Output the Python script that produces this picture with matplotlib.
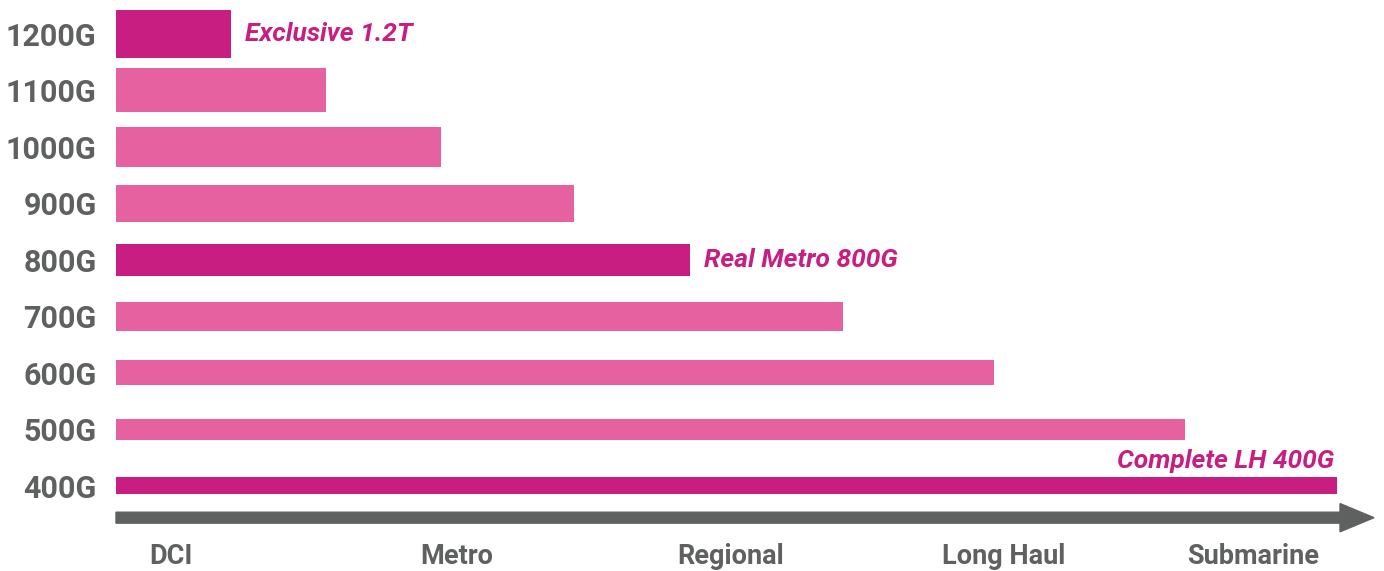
import matplotlib.pyplot as plt

# Data: line rates and the reach each one covers
rates = ['400G', '500G', '600G', '700G', '800G', '900G', '1000G', '1100G', '1200G']
reach = [1221, 1069, 878, 727, 574, 458, 325, 210, 115]
highlight = ['400G', '800G', '1200G']
callouts = {'1200G': 'Exclusive 1.2T', '800G': 'Real Metro 800G', '400G': 'Complete LH 400G'}
segments = ['DCI', 'Metro', 'Regional', 'Long Haul', 'Submarine']
segment_pos = [55, 341, 615, 888, 1137]

dark = '#C81E82'
light = '#E5619F'
gray = '#5F6060'

plt.rcParams['font.family'] = ['Roboto', 'DejaVu Sans']

fig = plt.figure(figsize=(13.84, 5.71), dpi=100)
ax = fig.add_axes([116 / 1384, 0, 1 - 116 / 1384, 1])

ypos = list(range(len(rates)))
# thinner bars for lower rates
heights = [0.30 + 0.069 * i for i in ypos]
colors = [dark if r in highlight else light for r in rates]
ax.barh(ypos, reach, height=heights, color=colors, left=0)

ax.set_xlim(0, 1268)
ax.set_ylim(-1.51, 8.6)

ax.set_yticks(ypos, rates)
ax.tick_params(axis='y', length=0, pad=14, labelsize=22, labelcolor=gray)
for t in ax.get_yticklabels():
    t.set_fontweight('bold')
ax.set_xticks([])
for s in ax.spines.values():
    s.set_visible(False)

# callout labels
for r, txt in callouts.items():
    i = rates.index(r)
    if r == '400G':
        ax.annotate(txt, (reach[i], i), xytext=(-2, 18), textcoords='offset points',
                    ha='right', va='center', fontsize=19, fontweight='bold',
                    fontstyle='italic', color=dark)
    else:
        ax.annotate(txt, (reach[i], i), xytext=(10, 0), textcoords='offset points',
                    ha='left', va='center', fontsize=19, fontweight='bold',
                    fontstyle='italic', color=dark)

# reach axis arrow
ax.arrow(0, -0.566, 1258, 0, width=0.194, head_width=0.5, head_length=34,
         length_includes_head=True, color=gray, clip_on=False)

for name, x in zip(segments, segment_pos):
    ax.text(x, -1.25, name, ha='center', va='center', fontsize=19.5,
            fontweight='bold', color=gray)

plt.savefig('out.png', dpi=100)
